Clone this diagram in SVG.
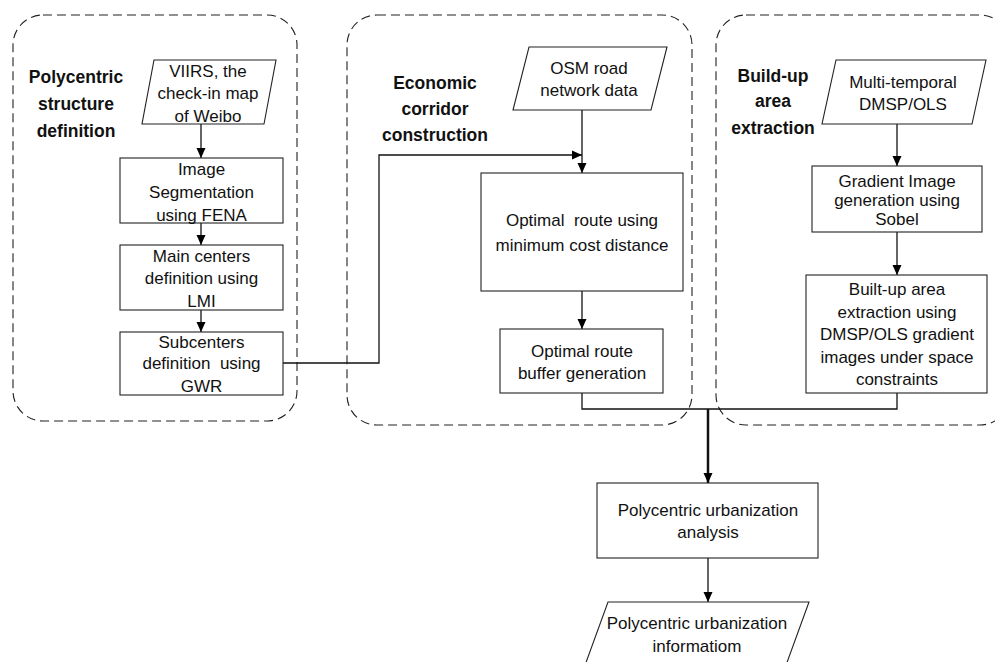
<svg xmlns="http://www.w3.org/2000/svg" width="995" height="662" viewBox="0 0 995 662">
<defs>
<marker id="ah" markerUnits="userSpaceOnUse" markerWidth="10" markerHeight="10" refX="10" refY="5" orient="auto">
<path d="M0,0.5 L10,5 L0,9.5 z" fill="#000"/>
</marker>
<style>
.grp{fill:none;stroke:#222;stroke-width:1.1;stroke-dasharray:9 5}
.box{fill:#fff;stroke:#222;stroke-width:1.1}
.t{font-family:"Liberation Sans",Arial,sans-serif;font-size:17px;fill:#111;text-anchor:middle}
.h{font-family:"Liberation Sans",Arial,sans-serif;font-size:17.5px;font-weight:bold;fill:#111;text-anchor:middle}
.pre{white-space:pre}
.c{fill:none;stroke:#111;stroke-width:1.3}
.ca{fill:none;stroke:#111;stroke-width:1.3;marker-end:url(#ah)}
.thick{fill:none;stroke:#111;stroke-width:2.5;marker-end:url(#ah)}
</style>
</defs>
<rect width="995" height="662" fill="#fff"/>

<g id="group-polycentric">
<rect class="grp" x="13" y="15" width="284" height="406" rx="30" ry="30"/>
<text class="h" x="76" y="83">Polycentric</text>
<text class="h" x="76" y="110">structure</text>
<text class="h" x="76" y="137">definition</text>
</g>
<g id="group-corridor">
<rect class="grp" x="347" y="15" width="345" height="410" rx="30" ry="30"/>
<text class="h" x="435" y="89">Economic</text>
<text class="h" x="435" y="115">corridor</text>
<text class="h" x="435" y="141">construction</text>
</g>
<g id="group-builtup">
<rect class="grp" x="716" y="15" width="294" height="410" rx="30" ry="30"/>
<text class="h" x="773" y="82">Build-up</text>
<text class="h" x="773" y="107">area</text>
<text class="h" x="773" y="134">extraction</text>
</g>

<g id="connectors">
<line class="ca" x1="201" y1="124" x2="201" y2="158"/>
<line class="ca" x1="201" y1="223" x2="201" y2="245"/>
<line class="ca" x1="201" y1="310" x2="201" y2="332"/>
<polyline class="ca" points="283,363 379,363 379,155 582,155"/>
<line class="ca" x1="582" y1="110" x2="582" y2="173"/>
<line class="ca" x1="582" y1="291" x2="582" y2="329"/>
<line class="ca" x1="897" y1="124" x2="897" y2="166"/>
<line class="ca" x1="897" y1="232" x2="897" y2="275"/>
<polyline class="c" points="582,393 582,409 897,409 897,393"/>
<line class="thick" x1="708" y1="409" x2="708" y2="483"/>
<line class="ca" x1="708" y1="558" x2="708" y2="602"/>
</g>

<g id="n-viirs">
<polygon class="box" points="154,60 276,60 264,124 142,124"/>
<text class="t" x="208" y="77">VIIRS, the</text>
<text class="t" x="208" y="99">check-in map</text>
<text class="t" x="208" y="122">of Weibo</text>
</g>
<g id="n-segmentation">
<rect class="box" x="120" y="158" width="163" height="65"/>
<text class="t" x="201.5" y="175">Image</text>
<text class="t" x="201.5" y="198">Segmentation</text>
<text class="t" x="201.5" y="221">using FENA</text>
</g>
<g id="n-maincenters">
<rect class="box" x="120" y="245" width="163" height="65"/>
<text class="t" x="201.5" y="262">Main centers</text>
<text class="t" x="201.5" y="284">definition using</text>
<text class="t" x="201.5" y="307">LMI</text>
</g>
<g id="n-subcenters">
<rect class="box" x="120" y="332" width="163" height="63"/>
<text class="t" x="201.5" y="348">Subcenters</text>
<text class="t pre" x="201.5" y="369">definition  using</text>
<text class="t" x="201.5" y="392">GWR</text>
</g>

<g id="n-osm">
<polygon class="box" points="529,47 667,47 651,110 513,110"/>
<text class="t" x="589" y="74">OSM road</text>
<text class="t" x="589" y="96">network data</text>
</g>
<g id="n-optimal">
<rect class="box" x="481" y="173" width="202" height="118"/>
<text class="t pre" x="582" y="226">Optimal  route using</text>
<text class="t" x="582" y="251">minimum cost distance</text>
</g>
<g id="n-buffer">
<rect class="box" x="500" y="329" width="163" height="64"/>
<text class="t" x="582" y="357">Optimal route</text>
<text class="t" x="582" y="379">buffer generation</text>
</g>

<g id="n-dmsp">
<polygon class="box" points="836,60 986,60 972,124 822,124"/>
<text class="t" x="903" y="88">Multi-temporal</text>
<text class="t" x="903" y="110">DMSP/OLS</text>
</g>
<g id="n-gradient">
<rect class="box" x="812" y="166" width="170" height="66"/>
<text class="t" x="897" y="187">Gradient Image</text>
<text class="t" x="897" y="206">generation using</text>
<text class="t" x="897" y="225">Sobel</text>
</g>
<g id="n-builtup">
<rect class="box" x="806" y="275" width="181" height="118"/>
<text class="t" x="897" y="295">Built-up area</text>
<text class="t" x="897" y="318">extraction using</text>
<text class="t" x="897" y="340">DMSP/OLS gradient</text>
<text class="t" x="897" y="363">images under space</text>
<text class="t" x="897" y="385">constraints</text>
</g>

<g id="n-analysis">
<rect class="box" x="597" y="483" width="221" height="75"/>
<text class="t" x="708" y="516">Polycentric urbanization</text>
<text class="t" x="708" y="538">analysis</text>
</g>
<g id="n-information">
<polygon class="box" points="608,602 809,602 777,690 576,690"/>
<text class="t" x="697" y="629">Polycentric urbanization</text>
<text class="t" x="697" y="652">informatiom</text>
</g>
</svg>
